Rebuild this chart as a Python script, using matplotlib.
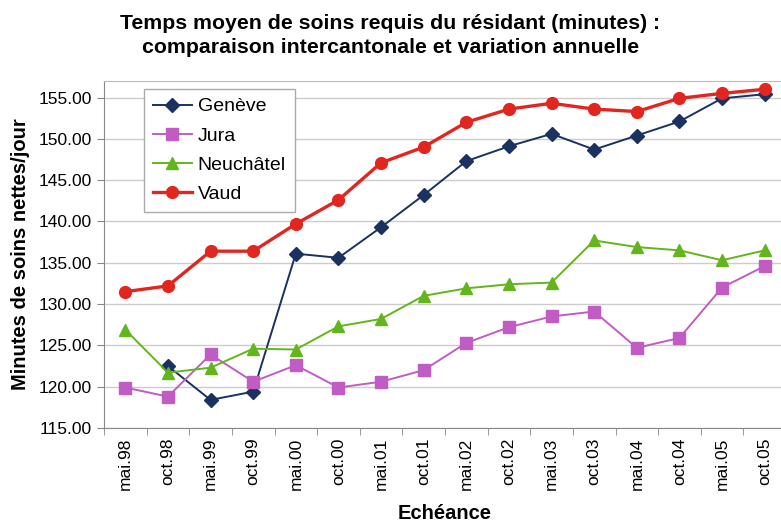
import numpy as np
import matplotlib
matplotlib.use("Agg")
import matplotlib.pyplot as plt

plt.rcParams["font.family"] = ["Liberation Sans", "DejaVu Sans"]

labels = ["mai.98", "oct.98", "mai.99", "oct.99", "mai.00", "oct.00", "mai.01", "oct.01",
          "mai.02", "oct.02", "mai.03", "oct.03", "mai.04", "oct.04", "mai.05", "oct.05"]
geneve = [np.nan, 122.5, 118.4, 119.4, 136.1, 135.6, 139.3, 143.2,
          147.3, 149.1, 150.6, 148.7, 150.4, 152.1, 154.9, 155.4]
jura = [119.9, 118.8, 123.9, 120.6, 122.6, 119.9, 120.6, 122.0,
        125.3, 127.2, 128.5, 129.1, 124.7, 125.9, 132.0, 134.6]
neuchatel = [126.9, 121.7, 122.3, 124.6, 124.5, 127.3, 128.2, 131.0,
             131.9, 132.4, 132.6, 137.7, 136.9, 136.5, 135.3, 136.5]
vaud = [131.5, 132.2, 136.4, 136.4, 139.7, 142.6, 147.1, 149.0,
        152.0, 153.6, 154.3, 153.6, 153.3, 154.9, 155.5, 156.0]

fig = plt.figure(figsize=(7.81, 5.22), dpi=100)
ax = fig.add_axes([104 / 781, 94 / 522, 682 / 781, 347 / 522])

x = np.arange(len(labels))
ax.plot(x, geneve, color="#1b3160", lw=1.4, marker="D", ms=7, label="Genève")
ax.plot(x, jura, color="#c05cc4", lw=1.4, marker="s", ms=8, label="Jura")
ax.plot(x, neuchatel, color="#62b51a", lw=1.4, marker="^", ms=9, label="Neuchâtel")
ax.plot(x, vaud, color="#e0261f", lw=2.4, marker="o", ms=8.5, label="Vaud")

ax.set_xlim(-0.5, 15.5)
ax.set_ylim(115, 157)
ax.set_yticks(np.arange(115, 156, 5))
ax.set_yticklabels([f"{v:.2f}" for v in np.arange(115, 156, 5)], fontsize=12.5)
ax.set_xticks(x)
ax.set_xticklabels(labels, rotation=90, fontsize=12.5)
ax.set_xticks(np.arange(-0.5, 16, 1), minor=True)
ax.tick_params(axis="x", which="major", length=0, pad=7)
ax.tick_params(axis="x", which="minor", length=5, color="#888888")
ax.tick_params(axis="y", length=5, color="#888888", pad=4)
ax.grid(axis="y", color="#cccccc", lw=1)
ax.set_axisbelow(True)
for s in ["left", "bottom"]:
    ax.spines[s].set_color("#888888")
ax.spines["top"].set_color("#bbbbbb")
ax.spines["right"].set_visible(False)

ax.set_ylabel("Minutes de soins nettes/jour", fontsize=14.5, fontweight="bold", labelpad=6)
ax.set_xlabel("Echéance", fontsize=14.5, fontweight="bold", labelpad=10)
fig.suptitle("Temps moyen de soins requis du résidant (minutes) :\ncomparaison intercantonale et variation annuelle",
             x=0.5, y=1 - 14 / 522, va="top", fontsize=15.3, fontweight="bold", linespacing=1.35)

leg = ax.legend(loc="upper left", bbox_to_anchor=(0.059, 0.977), fontsize=14,
                fancybox=False, framealpha=1, edgecolor="#aaaaaa", borderaxespad=0,
                handlelength=2.0, handletextpad=0.3, labelspacing=0.6, borderpad=0.45)
leg.get_frame().set_linewidth(1)

fig.savefig("out.png", dpi=100)
